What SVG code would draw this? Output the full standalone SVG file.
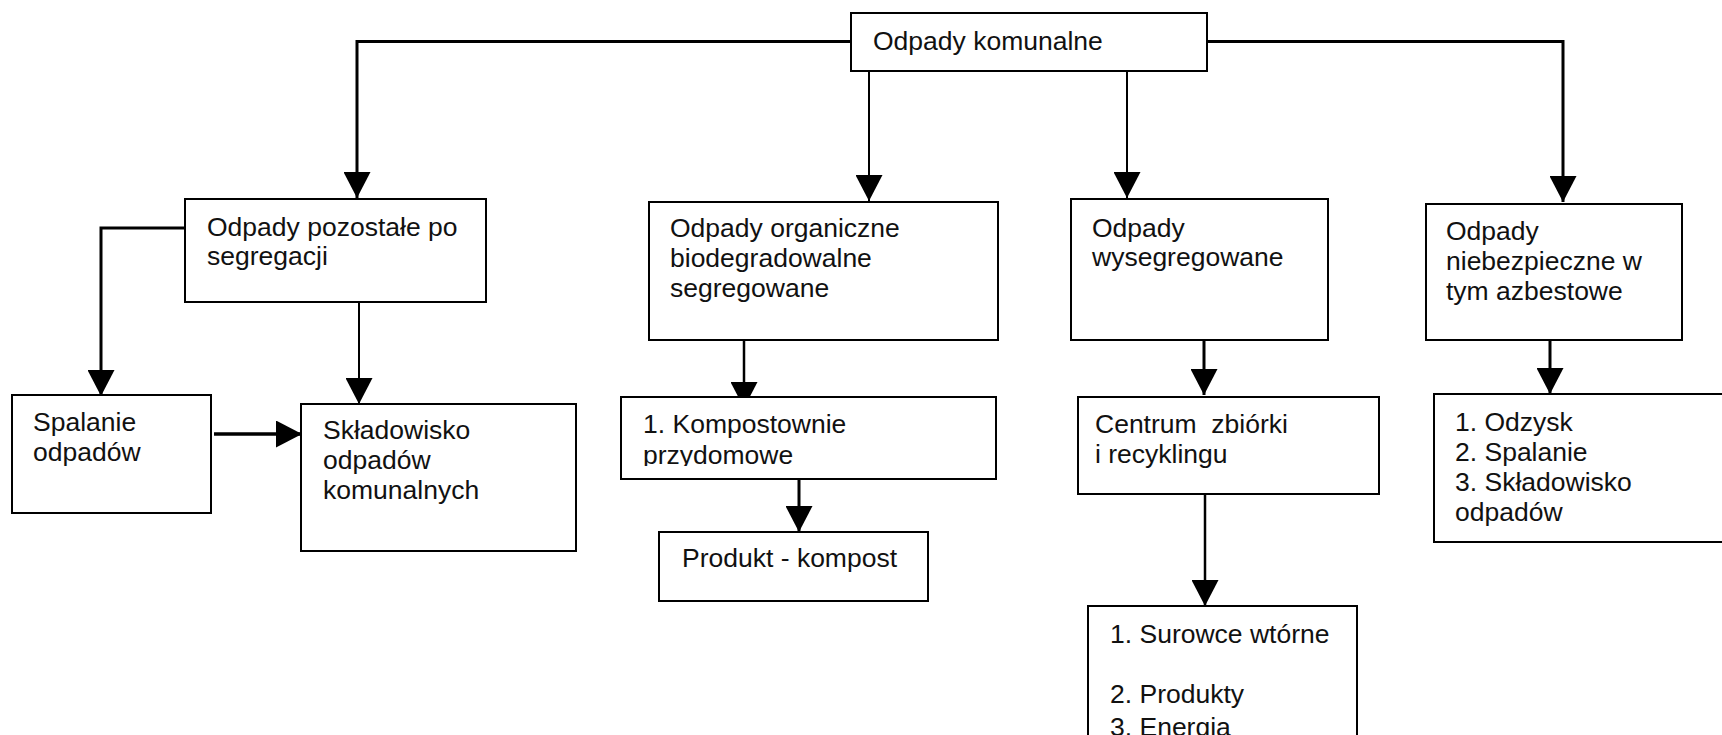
<svg xmlns="http://www.w3.org/2000/svg" width="1722" height="735" viewBox="0 0 1722 735">
<style>
.box{fill:#fff;stroke:#000;stroke-width:2}
.t{font-family:"Liberation Sans",Arial,sans-serif;font-size:26.5px;fill:#111;white-space:pre}
.c{fill:none;stroke:#000}
</style>
<defs>
<marker id="ah" viewBox="0 0 26 27" refX="26" refY="13.5" markerWidth="26" markerHeight="27" markerUnits="userSpaceOnUse" orient="auto">
<path d="M0,0 L26,13.5 L0,27 z" fill="#000"/>
</marker>
<clipPath id="clipK"><rect x="621" y="397" width="375" height="69"/></clipPath>
</defs>
<rect width="1722" height="735" fill="#fff"/>
<g id="connectors">
<path class="c" stroke-width="3" d="M851,41.5 H357 V198" marker-end="url(#ah)"/>
<path class="c" stroke-width="3" d="M1207,41.5 H1563 V202" marker-end="url(#ah)"/>
<path class="c" stroke-width="2" d="M869,71 V201" marker-end="url(#ah)"/>
<path class="c" stroke-width="2" d="M1127,71 V198" marker-end="url(#ah)"/>
<path class="c" stroke-width="3" d="M185,228 H101 V396" marker-end="url(#ah)"/>
<path class="c" stroke-width="2" d="M359,302 V404" marker-end="url(#ah)"/>
<path class="c" stroke-width="3.5" d="M214,434 H302" marker-end="url(#ah)"/>
<path class="c" stroke-width="2.5" d="M744,340 V408" marker-end="url(#ah)"/>
<path class="c" stroke-width="3" d="M799,479 V532" marker-end="url(#ah)"/>
<path class="c" stroke-width="3" d="M1204,340 V395" marker-end="url(#ah)"/>
<path class="c" stroke-width="2.5" d="M1205,494 V606" marker-end="url(#ah)"/>
<path class="c" stroke-width="3" d="M1550,340 V394" marker-end="url(#ah)"/>
</g>
<g id="n-komunalne">
<rect class="box" x="851" y="13" width="356" height="58"/>
<text class="t" x="873" y="50">Odpady komunalne</text>
</g>
<g id="n-pozostale">
<rect class="box" x="185" y="199" width="301" height="103"/>
<text class="t" x="207" y="236">Odpady pozostałe po</text>
<text class="t" x="207" y="265">segregacji</text>
</g>
<g id="n-organiczne">
<rect class="box" x="649" y="202" width="349" height="138"/>
<text class="t" x="670" y="237">Odpady organiczne</text>
<text class="t" x="670" y="267">biodegradowalne</text>
<text class="t" x="670" y="297">segregowane</text>
</g>
<g id="n-wysegregowane">
<rect class="box" x="1071" y="199" width="257" height="141"/>
<text class="t" x="1092" y="237">Odpady</text>
<text class="t" x="1092" y="266">wysegregowane</text>
</g>
<g id="n-niebezpieczne">
<rect class="box" x="1426" y="204" width="256" height="136"/>
<text class="t" x="1446" y="240">Odpady</text>
<text class="t" x="1446" y="270">niebezpieczne w</text>
<text class="t" x="1446" y="300">tym azbestowe</text>
</g>
<g id="n-spalanie">
<rect class="box" x="12" y="395" width="199" height="118"/>
<text class="t" x="33" y="431">Spalanie</text>
<text class="t" x="33" y="461">odpadów</text>
</g>
<g id="n-skladowisko">
<rect class="box" x="301" y="404" width="275" height="147"/>
<text class="t" x="323" y="439">Składowisko</text>
<text class="t" x="323" y="469">odpadów</text>
<text class="t" x="323" y="499">komunalnych</text>
</g>
<g id="n-kompostownie">
<rect class="box" x="621" y="397" width="375" height="82"/>
<g clip-path="url(#clipK)">
<text class="t" x="643" y="433">1. Kompostownie</text>
<text class="t" x="643" y="464">przydomowe</text>
</g>
</g>
<g id="n-produkt">
<rect class="box" x="659" y="532" width="269" height="69"/>
<text class="t" x="682" y="567">Produkt - kompost</text>
</g>
<g id="n-centrum">
<rect class="box" x="1078" y="397" width="301" height="97"/>
<text class="t" x="1095" y="433">Centrum  zbiórki</text>
<text class="t" x="1095" y="463">i recyklingu</text>
</g>
<g id="n-odzysk">
<rect class="box" x="1434" y="394" width="300" height="148"/>
<text class="t" x="1455" y="431">1. Odzysk</text>
<text class="t" x="1455" y="461">2. Spalanie</text>
<text class="t" x="1455" y="491">3. Składowisko</text>
<text class="t" x="1455" y="521">odpadów</text>
</g>
<g id="n-surowce">
<rect class="box" x="1088" y="606" width="269" height="140"/>
<text class="t" x="1110" y="643">1. Surowce wtórne</text>
<text class="t" x="1110" y="703">2. Produkty</text>
<text class="t" x="1110" y="736">3. Energia</text>
</g>
</svg>
